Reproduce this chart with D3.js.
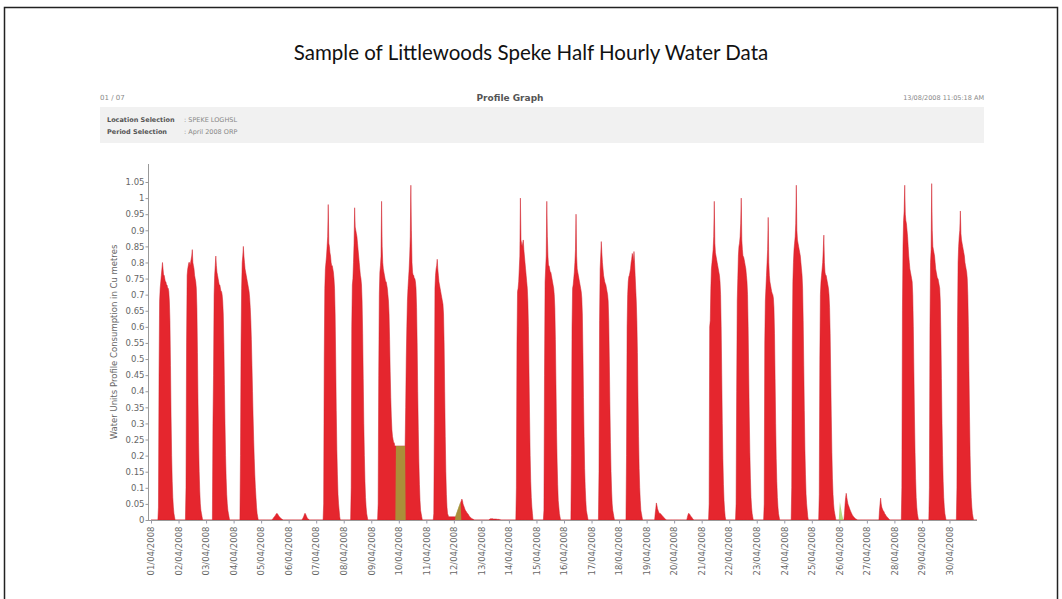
<!DOCTYPE html>
<html lang="en">
<head>
<meta charset="utf-8">
<title>Littlewoods Speke Half Hourly Water Data</title>
<script src="https://d3js.org/d3.v7.min.js"></script>
<style>
  body { margin: 0; background: #fff; }
  .tick text { font-family: "DejaVu Sans", sans-serif; }
</style>
</head>
<body>
<script>
var dayLabels = ["01/04/2008", "02/04/2008", "03/04/2008", "04/04/2008", "05/04/2008",
    "06/04/2008", "07/04/2008", "08/04/2008", "09/04/2008", "10/04/2008",
    "11/04/2008", "12/04/2008", "13/04/2008", "14/04/2008", "15/04/2008",
    "16/04/2008", "17/04/2008", "18/04/2008", "19/04/2008", "20/04/2008",
    "21/04/2008", "22/04/2008", "23/04/2008", "24/04/2008", "25/04/2008",
    "26/04/2008", "27/04/2008", "28/04/2008", "29/04/2008", "30/04/2008"];

var yTicks = [0, 0.05, 0.1, 0.15, 0.2, 0.25, 0.3, 0.35, 0.4, 0.45, 0.5, 0.55,
    0.6, 0.65, 0.7, 0.75, 0.8, 0.85, 0.9, 0.95, 1, 1.05];

// half hourly readings, cu metres
// each row: [day of April, first half-hour slot (0 = 00:00, 12 = 06:00), readings]
// slots not listed read 0
var actualReadings = [
    [1, 12, [0, 0.04, 0.45, 0.68, 0.72, 0.74, 0.76, 0.78, 0.80, 0.78, 0.76, 0.76, 0.75, 0.74, 0.74, 0.73, 0.73, 0.72, 0.72, 0.71, 0.68, 0.62, 0.48, 0.32, 0.20, 0.12, 0.07, 0.04, 0.02, 0.01, 0]],
    [2, 12, [0, 0.10, 0.55, 0.76, 0.78, 0.79, 0.80, 0.80, 0.79, 0.80, 0.81, 0.82, 0.84, 0.80, 0.79, 0.78, 0.76, 0.75, 0.74, 0.72, 0.66, 0.52, 0.36, 0.24, 0.15, 0.09, 0.05, 0.03, 0.02, 0.01, 0]],
    [3, 12, [0.30, 0.45, 0.70, 0.76, 0.79, 0.82, 0.79, 0.77, 0.76, 0.75, 0.74, 0.73, 0.73, 0.72, 0.71, 0.71, 0.70, 0.68, 0.64, 0.55, 0.42, 0.30, 0.20, 0.13, 0.08, 0.05, 0.03, 0.02, 0.01, 0, 0]],
    [4, 12, [0.20, 0.55, 0.72, 0.80, 0.82, 0.85, 0.82, 0.80, 0.78, 0.77, 0.76, 0.75, 0.74, 0.73, 0.72, 0.71, 0.69, 0.66, 0.62, 0.56, 0.48, 0.40, 0.32, 0.25, 0.19, 0.14, 0.10, 0.07, 0.04, 0.02, 0.01]],
    [5, 20, [0.003, 0.005, 0.008, 0.01, 0.012, 0.015, 0.018, 0.02, 0.02, 0.018, 0.015, 0.012, 0.01, 0.008, 0.006, 0.004, 0.003, 0.002, 0]],
    [6, 24, [0.003, 0.006, 0.01, 0.015, 0.02, 0.02, 0.016, 0.012, 0.008, 0.005, 0.003, 0.002, 0]],
    [7, 12, [0, 0.05, 0.50, 0.72, 0.78, 0.80, 0.82, 0.85, 0.88, 0.98, 0.86, 0.85, 0.83, 0.82, 0.80, 0.79, 0.79, 0.78, 0.77, 0.75, 0.72, 0.64, 0.50, 0.34, 0.22, 0.14, 0.08, 0.05, 0.03, 0.01, 0]],
    [8, 12, [0, 0.10, 0.60, 0.73, 0.75, 0.80, 0.86, 0.97, 0.91, 0.90, 0.89, 0.88, 0.86, 0.84, 0.82, 0.80, 0.78, 0.76, 0.75, 0.73, 0.68, 0.58, 0.44, 0.30, 0.20, 0.12, 0.07, 0.04, 0.02, 0.01, 0]],
    [9, 12, [0.05, 0.45, 0.70, 0.77, 0.79, 0.82, 0.99, 0.85, 0.80, 0.78, 0.77, 0.76, 0.75, 0.74, 0.74, 0.73, 0.72, 0.70, 0.68, 0.64, 0.56, 0.46, 0.38, 0.32, 0.28, 0.26, 0.25, 0.24, 0.24, 0.23, 0.23, 0.23, 0.23, 0.23, 0.23, 0.23]],
    [10, 0, [0.23, 0.23, 0.23, 0.23, 0.23, 0.23, 0.23, 0.23, 0.23, 0.23, 0.23, 0.23, 0.35, 0.50, 0.60, 0.68, 0.72, 0.75, 0.78, 0.82, 0.88, 1.04, 0.90, 0.80, 0.77, 0.76, 0.76, 0.75, 0.75, 0.74, 0.72, 0.66, 0.55, 0.40, 0.28, 0.18, 0.11, 0.06, 0.03, 0.02, 0.01, 0]],
    [11, 12, [0, 0.02, 0.30, 0.72, 0.76, 0.78, 0.79, 0.81, 0.78, 0.76, 0.74, 0.73, 0.72, 0.71, 0.70, 0.69, 0.68, 0.67, 0.64, 0.55, 0.40, 0.26, 0.15, 0.08, 0.04, 0.02, 0.015, 0.01, 0.01, 0.01, 0.01, 0.01, 0.01, 0.01, 0.01, 0.01]],
    [12, 0, [0.01, 0.01, 0.01, 0.01, 0.015, 0.02, 0.025, 0.03, 0.035, 0.04, 0.045, 0.05, 0.055, 0.06, 0.065, 0.06, 0.05, 0.045, 0.04, 0.035, 0.03, 0.028, 0.025, 0.022, 0.02, 0.018, 0.015, 0.012, 0.01, 0.008, 0.006, 0.005, 0.004, 0.003, 0.002, 0.001, 0]],
    [13, 14, [0.002, 0.003, 0.004, 0.004, 0.004, 0.004, 0.004, 0.003, 0.003, 0.003, 0.003, 0.003, 0.003, 0.002, 0.002, 0.002, 0.002, 0.002, 0.001, 0.001, 0]],
    [14, 12, [0, 0.10, 0.55, 0.71, 0.72, 0.74, 0.78, 0.82, 1.00, 0.87, 0.86, 0.85, 0.86, 0.87, 0.84, 0.82, 0.80, 0.78, 0.76, 0.74, 0.72, 0.68, 0.60, 0.46, 0.32, 0.20, 0.12, 0.07, 0.04, 0.02, 0]],
    [15, 12, [0, 0.03, 0.45, 0.74, 0.78, 0.82, 0.99, 0.88, 0.82, 0.79, 0.79, 0.78, 0.77, 0.77, 0.76, 0.75, 0.74, 0.73, 0.72, 0.70, 0.66, 0.56, 0.42, 0.28, 0.18, 0.11, 0.06, 0.04, 0.02, 0.01, 0]],
    [16, 12, [0, 0.20, 0.60, 0.72, 0.73, 0.75, 0.77, 0.80, 0.84, 0.95, 0.82, 0.78, 0.77, 0.76, 0.75, 0.74, 0.73, 0.72, 0.71, 0.69, 0.64, 0.52, 0.38, 0.26, 0.16, 0.10, 0.06, 0.03, 0.02, 0.01, 0]],
    [17, 12, [0, 0.15, 0.62, 0.78, 0.82, 0.865, 0.83, 0.80, 0.78, 0.76, 0.75, 0.74, 0.735, 0.73, 0.72, 0.71, 0.70, 0.68, 0.62, 0.50, 0.36, 0.24, 0.15, 0.09, 0.05, 0.03, 0.02, 0.01, 0, 0, 0]],
    [18, 12, [0, 0.20, 0.60, 0.70, 0.74, 0.756, 0.76, 0.77, 0.78, 0.80, 0.81, 0.828, 0.82, 0.80, 0.834, 0.80, 0.76, 0.72, 0.68, 0.62, 0.52, 0.38, 0.26, 0.16, 0.10, 0.06, 0.03, 0.02, 0.01, 0, 0]],
    [19, 14, [0, 0.02, 0.035, 0.053, 0.045, 0.035, 0.03, 0.025, 0.022, 0.02, 0.02, 0.018, 0.016, 0.014, 0.012, 0.01, 0.008, 0.006, 0.004, 0.002, 0.001, 0]],
    [20, 22, [0, 0.008, 0.015, 0.02, 0.02, 0.018, 0.015, 0.012, 0.01, 0.008, 0.005, 0.003, 0]],
    [21, 12, [0, 0.05, 0.60, 0.62, 0.72, 0.78, 0.80, 0.82, 0.84, 0.88, 0.99, 0.86, 0.83, 0.82, 0.81, 0.80, 0.79, 0.78, 0.77, 0.76, 0.74, 0.70, 0.60, 0.45, 0.30, 0.19, 0.11, 0.06, 0.03, 0.01, 0]],
    [22, 12, [0.05, 0.40, 0.68, 0.75, 0.82, 0.85, 0.86, 0.88, 0.92, 1.00, 0.87, 0.84, 0.82, 0.818, 0.81, 0.80, 0.79, 0.78, 0.76, 0.74, 0.70, 0.60, 0.46, 0.32, 0.21, 0.13, 0.07, 0.04, 0.02, 0.01, 0]],
    [23, 12, [0, 0.05, 0.55, 0.68, 0.72, 0.76, 0.80, 0.84, 0.94, 0.80, 0.76, 0.74, 0.73, 0.72, 0.71, 0.704, 0.70, 0.69, 0.66, 0.58, 0.44, 0.30, 0.19, 0.12, 0.07, 0.04, 0.02, 0.01, 0, 0, 0]],
    [24, 12, [0, 0.10, 0.55, 0.74, 0.80, 0.84, 0.86, 0.88, 0.92, 1.04, 0.90, 0.87, 0.86, 0.85, 0.84, 0.83, 0.82, 0.80, 0.78, 0.76, 0.72, 0.62, 0.48, 0.34, 0.22, 0.14, 0.08, 0.05, 0.03, 0.01, 0]],
    [25, 12, [0, 0.08, 0.50, 0.70, 0.74, 0.76, 0.78, 0.80, 0.84, 0.885, 0.80, 0.77, 0.76, 0.76, 0.75, 0.74, 0.73, 0.72, 0.70, 0.66, 0.58, 0.45, 0.32, 0.21, 0.13, 0.08, 0.05, 0.03, 0.02, 0.01, 0]],
    [26, 8, [0, 0.02, 0.05, 0.07, 0.083, 0.07, 0.06, 0.05, 0.045, 0.04, 0.035, 0.03, 0.026, 0.022, 0.018, 0.015, 0.012, 0.01, 0.008, 0.006, 0.004, 0.003, 0.002, 0.001, 0]],
    [27, 21, [0, 0.03, 0.05, 0.068, 0.05, 0.04, 0.035, 0.03, 0.028, 0.025, 0.02, 0.018, 0.015, 0.012, 0.01, 0.008, 0.006, 0.004, 0.002, 0]],
    [28, 12, [0, 0.10, 0.65, 0.85, 0.93, 0.96, 1.04, 0.95, 0.93, 0.92, 0.90, 0.88, 0.85, 0.82, 0.80, 0.78, 0.77, 0.76, 0.75, 0.74, 0.70, 0.60, 0.46, 0.32, 0.21, 0.13, 0.07, 0.04, 0.02, 0.01, 0]],
    [29, 12, [0, 0.10, 0.60, 0.80, 0.84, 1.045, 0.90, 0.85, 0.84, 0.83, 0.82, 0.80, 0.78, 0.77, 0.76, 0.75, 0.75, 0.74, 0.73, 0.72, 0.68, 0.58, 0.44, 0.30, 0.20, 0.12, 0.07, 0.04, 0.02, 0.01, 0]],
    [30, 12, [0, 0.10, 0.60, 0.80, 0.85, 0.88, 0.90, 0.96, 0.89, 0.87, 0.86, 0.85, 0.84, 0.83, 0.82, 0.80, 0.79, 0.78, 0.77, 0.75, 0.70, 0.60, 0.46, 0.32, 0.20, 0.12, 0.07, 0.04, 0.02, 0.01, 0]]
];

// second (green) series, drawn over the first
var estimatedReadings = [
    [9, 42, [0, 0.23, 0.23, 0.23, 0.23, 0.23]],
    [10, 0, [0.23, 0.23, 0.23, 0.23, 0.23, 0.23, 0.23, 0.23, 0.23, 0.23, 0.23, 0.23, 0]],
    [12, 2, [0, 0.015, 0.02, 0.025, 0.03, 0.035, 0.04, 0.045, 0.05, 0.055, 0.05, 0]],
    [26, 0, [0.03, 0.056, 0.045, 0.035, 0.025, 0.015, 0.008, 0]]
];

var width = 1062, height = 599;
var start = Date.UTC(2008, 3, 1), end = Date.UTC(2008, 4, 1);

function buildSeries(rows) {
    var vals = [];
    for (var i = 0; i <= 30 * 48; i++) vals.push(0);
    rows.forEach(function (r) {
        var base = (r[0] - 1) * 48 + r[1];
        r[2].forEach(function (v, i) { vals[base + i] = v; });
    });
    return vals.map(function (v, i) {
        return { t: new Date(start + i * 1800000), v: v };
    });
}

var actual = buildSeries(actualReadings);
var estimated = buildSeries(estimatedReadings);

var svg = d3.select("body")
    .append("svg")
    .attr("width", width)
    .attr("height", height);

// frame
svg.append("rect")
    .attr("x", 4.5).attr("y", 7.5)
    .attr("width", 1053).attr("height", 620)
    .attr("fill", "none")
    .attr("stroke", "#222")
    .attr("stroke-width", 1.5);

svg.append("text")
    .attr("x", 531).attr("y", 60)
    .attr("text-anchor", "middle")
    .attr("font-family", "Lato, sans-serif")
    .attr("font-size", 20.5)
    .attr("fill", "#111")
    .text("Sample of Littlewoods Speke Half Hourly Water Data");

// report header
svg.append("text")
    .attr("x", 100).attr("y", 100)
    .attr("font-family", "DejaVu Sans, sans-serif")
    .attr("font-size", 7)
    .attr("fill", "#888")
    .text("01 / 07");

svg.append("text")
    .attr("x", 510).attr("y", 101)
    .attr("text-anchor", "middle")
    .attr("font-family", "DejaVu Sans, sans-serif")
    .attr("font-weight", "bold")
    .attr("font-size", 9)
    .attr("fill", "#555")
    .text("Profile Graph");

svg.append("text")
    .attr("x", 984).attr("y", 100)
    .attr("text-anchor", "end")
    .attr("font-family", "DejaVu Sans, sans-serif")
    .attr("font-size", 6.5)
    .attr("fill", "#888")
    .text("13/08/2008 11:05:18 AM");

svg.append("rect")
    .attr("x", 100).attr("y", 107)
    .attr("width", 884).attr("height", 36)
    .attr("fill", "#f1f1f1");

var sel = [["Location Selection", ": SPEKE LOGHSL"], ["Period Selection", ": April 2008 ORP"]];
sel.forEach(function (s, i) {
    svg.append("text")
        .attr("x", 107).attr("y", 122 + i * 12)
        .attr("font-family", "DejaVu Sans, sans-serif")
        .attr("font-weight", "bold")
        .attr("font-size", 6.5)
        .attr("fill", "#555")
        .text(s[0]);
    svg.append("text")
        .attr("x", 184).attr("y", 122 + i * 12)
        .attr("font-family", "DejaVu Sans, sans-serif")
        .attr("font-size", 6.5)
        .attr("fill", "#888")
        .text(s[1]);
});

// chart
var x = d3.scaleUtc().domain([start, end]).range([151, 977]);
var y = d3.scaleLinear().domain([0, 1.05]).range([520, 182]);

var area = d3.area()
    .x(function (d) { return x(d.t); })
    .y0(y(0))
    .y1(function (d) { return y(d.v); });

svg.append("path")
    .datum(actual)
    .attr("d", area)
    .attr("fill", "#e5262e")
    .attr("stroke", "#cf1f28")
    .attr("stroke-width", 0.5);

svg.append("path")
    .datum(estimated)
    .attr("d", area)
    .attr("fill", "#8cc63f")
    .attr("fill-opacity", 0.65);

// axes
svg.append("line")
    .attr("x1", 148.5).attr("x2", 148.5)
    .attr("y1", 164).attr("y2", 521)
    .attr("stroke", "#999");

svg.append("line")
    .attr("x1", 148).attr("x2", 977)
    .attr("y1", 520.5).attr("y2", 520.5)
    .attr("stroke", "#999");

var yAxis = svg.append("g")
    .attr("transform", "translate(148.5,0)")
    .call(d3.axisLeft(y).tickValues(yTicks).tickSize(3).tickFormat(d3.format("~g")));
yAxis.select(".domain").remove();
yAxis.selectAll("line").attr("stroke", "#999");
yAxis.selectAll("text")
    .attr("font-size", 8.5)
    .attr("fill", "#666")
    .attr("x", -4);

var dayDates = dayLabels.map(function (d) {
    var p = d.split("/");
    return new Date(Date.UTC(+p[2], +p[1] - 1, +p[0]));
});

var xAxis = svg.append("g")
    .attr("transform", "translate(0,520.5)")
    .call(d3.axisBottom(x).tickValues(dayDates).tickSize(3)
        .tickFormat(function (d, i) { return dayLabels[i]; }));
xAxis.select(".domain").remove();
xAxis.selectAll("line").attr("stroke", "#99a");
xAxis.selectAll("text")
    .attr("font-size", 8.5)
    .attr("fill", "#666")
    .attr("transform", "rotate(-90)")
    .attr("x", -6)
    .attr("y", 0)
    .attr("dy", "0.32em")
    .style("text-anchor", "end");

svg.append("text")
    .attr("transform", "translate(117,342) rotate(-90)")
    .attr("text-anchor", "middle")
    .attr("font-family", "DejaVu Sans, sans-serif")
    .attr("font-size", 8.5)
    .attr("fill", "#666")
    .text("Water Units Profile Consumption in Cu metres");
</script>
</body>
</html>
